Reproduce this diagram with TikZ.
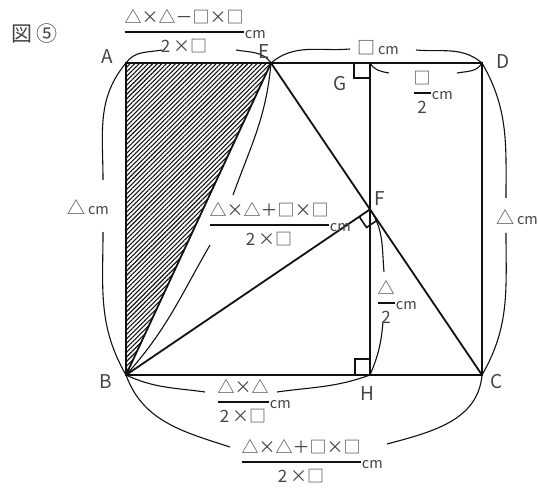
\documentclass[tikz,border=0pt]{standalone}
\usepackage{fontspec}
\setmainfont{Noto Sans CJK JP}
\usepackage{xcolor}
\usetikzlibrary{positioning,calc,patterns.meta}
\definecolor{figInk}{HTML}{111111}
\definecolor{figText}{HTML}{444444}
\setlength{\arrayrulewidth}{2.6pt}
\newcommand{\frc}[2]{\begin{tabular}{@{}c@{}}\textcolor{figText}{#1}\\[1pt]\hline\rule{0pt}{19pt}\textcolor{figText}{#2}\end{tabular}}
\tikzset{
  segline/.style={
    line width=1.8pt,
    draw=figInk
  },
  arcline/.style={
    line width=1.1pt,
    draw=figInk
  },
  rightmark/.style={
    line width=1.6pt,
    draw=figInk
  },
  hatch/.style={
    pattern={Lines[angle=45,distance=3.2pt,line width=1.1pt]},
    pattern color=figInk
  },
  ptlbl/.style={
    text=figText,
    inner sep=0pt,
    font=\fontsize{19}{22}\selectfont
  },
  qty/.style={
    text=figInk,
    inner sep=0pt,
    font=\fontsize{17}{20}\selectfont
  },
  unitlbl/.style={
    text=figText,
    inner sep=0pt,
    font=\fontsize{14.5}{15}\selectfont
  }
}

\begin{document}
\begin{tikzpicture}[x=1pt,y=1pt]
  \useasboundingbox (0,0) rectangle (538,488);
  \coordinate (A) at (126,425);
  \coordinate (E) at (271,425);
  \coordinate (G) at (370,425);
  \coordinate (D) at (482,425);
  \coordinate (B) at (126,113);
  \coordinate (H) at (370,113);
  \coordinate (C) at (482,113);
  \coordinate (F) at (intersection of E--C and G--H);

  \path[hatch] (A) -- (E) -- (B) -- cycle;
  \draw[segline] (A) -- (D) -- (C) -- (B) -- cycle;
  \draw[segline] (B) -- (E) -- (C);
  \draw[segline] (G) -- (H);
  \draw[segline] (B) -- (F);

  \draw[rightmark] ($(G)+(-16,0)$) -- ++(0,-15) -- ++(16,0);
  \draw[rightmark] ($(H)+(-15,0)$) -- ++(0,16) -- ++(15,0);
  \coordinate (fb) at ($(F)!13pt!(B)$);
  \coordinate (fc) at ($(F)!13pt!(C)$);
  \draw[rightmark] (fb) -- ($(fb)+(fc)-(F)$) -- (fc);

  \coordinate (ae1) at (162,438);
  \coordinate (ae2) at (236,438);
  \coordinate (ed1) at (350,439);
  \coordinate (ed2) at (416,438);
  \coordinate (gd1) at (389,415);
  \coordinate (gd2) at (457,415);
  \coordinate (ab1) at (103,308);
  \coordinate (ab2) at (103,256);
  \coordinate (dc1) at (506,290);
  \coordinate (dc2) at (506,255);
  \coordinate (eb1) at (233,293);
  \coordinate (eb2) at (210,243);
  \coordinate (fh1) at (384,216);
  \coordinate (fh2) at (383,166);
  \coordinate (bh1) at (205,96);
  \coordinate (bh2) at (277,96);
  \coordinate (bc1) at (230,41);
  \coordinate (bc2) at (387,44);
  \draw[arcline] (A) to[out=55,in=190] (ae1) (ae2) to[out=-10,in=125] (E);
  \draw[arcline] (E) to[out=40,in=185] (ed1) (ed2) to[out=-5,in=140] (D);
  \draw[arcline] (G) to[out=-60,in=170] (gd1) (gd2) to[out=10,in=-120] (D);
  \draw[arcline] (A) to[out=230,in=90] (ab1) (ab2) to[out=-90,in=120] (B);
  \draw[arcline] (D) to[out=-60,in=90] (dc1) (dc2) to[out=-90,in=60] (C);
  \draw[arcline] (E) to[out=265,in=70] (eb1) (eb2) to[out=240,in=48] (B);
  \draw[arcline] (F) to[out=-56,in=95] (fh1) (fh2) to[out=-95,in=67] (H);
  \draw[arcline] (B) to[out=-25,in=172] (bh1) (bh2) to[out=8,in=-160] (H);
  \draw[arcline] (B) to[out=-70,in=162] (bc1) (bc2) to[out=15,in=-95] (C);

  \node[ptlbl] (lblA) at (107,431) {A};
  \node[ptlbl] (lblE) at (264,436) {E};
  \node[ptlbl] (lblD) at (503,426) {D};
  \node[ptlbl] (lblG) at (340,404) {G};
  \node[ptlbl] (lblF) at (380,289) {F};
  \node[ptlbl] (lblB) at (106,106) {B};
  \node[ptlbl] (lblH) at (367,94) {H};
  \node[ptlbl] (lblC) at (497,106) {C};
  \node[ptlbl,anchor=west,font=\fontsize{21}{24}\selectfont] (title) at (11,454) {図 ⑤};

  \node[qty] (fracAE) at (184,454) {\frc{△×△－□×□}{2\,×□}};
  \node[unitlbl,right=1pt of fracAE,yshift=-1pt] (cmAE) {cm};
  \node[qty] (fracEB) at (269,261) {\frc{△×△＋□×□}{2\,×□}};
  \node[unitlbl,right=1pt of fracEB,yshift=-1pt] (cmEB) {cm};
  \node[qty] (fracBH) at (243,84) {\frc{△×△}{2\,×□}};
  \node[unitlbl,right=1pt of fracBH,yshift=-1pt] (cmBH) {cm};
  \node[qty] (fracBC) at (301,24) {\frc{△×△＋□×□}{2\,×□}};
  \node[unitlbl,right=1pt of fracBC,yshift=-1pt] (cmBC) {cm};
  \node[qty] (fracGD) at (422,393) {\frc{□}{2}};
  \node[unitlbl,right=1pt of fracGD,yshift=-1pt] (cmGD) {cm};
  \node[qty] (fracFH) at (386,183) {\frc{△}{2}};
  \node[unitlbl,right=1pt of fracFH,yshift=-1pt] (cmFH) {cm};
  \node[qty,text=figText,font=\fontsize{18}{20}\selectfont] (lenED) at (378,440) {□\,{\fontsize{14.5}{15}\selectfont cm}};
  \node[qty,text=figText,font=\fontsize{18}{20}\selectfont] (lenAB) at (88,281) {△\,{\fontsize{14.5}{15}\selectfont cm}};
  \node[qty,text=figText,font=\fontsize{18}{20}\selectfont] (lenDC) at (517,271) {△\,{\fontsize{14.5}{15}\selectfont cm}};
\end{tikzpicture}
\end{document}
